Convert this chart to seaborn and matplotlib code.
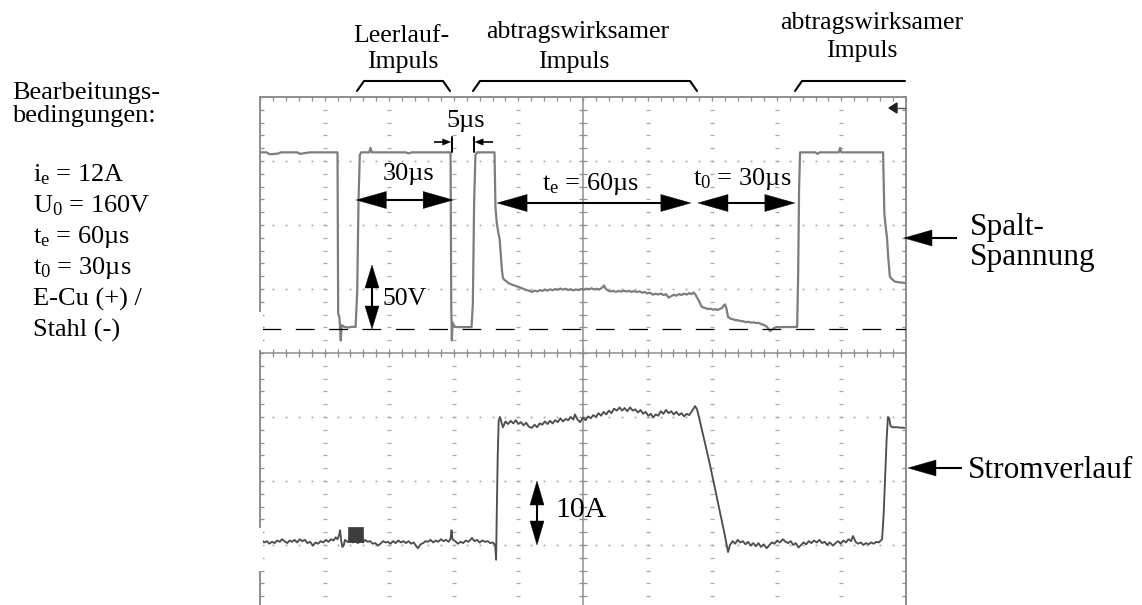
import numpy as np
import matplotlib
matplotlib.use("Agg")
import matplotlib.pyplot as plt
import seaborn as sns
from matplotlib import transforms as mtransforms
from matplotlib.lines import Line2D
from matplotlib.patches import Polygon, Rectangle

# ---------------------------------------------------------------------------
# Oscillogram data: gap voltage (V) and current (A) over time (µs)
# ---------------------------------------------------------------------------
volt_us = [
    0.0, 2.0, 3.0, 5.5, 6.5, 11.5, 12.5, 14.0, 15.5, 24.0,
    24.2, 24.6, 25.0, 25.3, 26.2, 27.5, 28.5, 29.6, 30.1, 30.5, 30.9, 31.3,
    33.8, 34.2, 34.6, 45.0, 46.0, 47.0, 59.0,
    59.2, 59.4, 59.6, 60.2, 61.0, 65.5, 65.9, 66.3, 66.7, 67.2, 72.6,
    72.9, 73.3, 73.8, 74.2, 74.6, 74.9, 75.2, 75.6, 76.2, 76.8, 77.5, 78.3,
    79.0, 79.9, 80.7, 81.5, 82.3, 83.2,
    84.2, 85.0, 85.8, 86.6, 87.4, 88.2, 89.0, 89.8, 90.6, 91.4, 92.2, 93.0,
    93.8, 94.6, 95.4, 96.2, 97.0, 97.8, 98.6, 99.4, 100.2, 101.0, 101.8,
    102.6, 103.4, 104.2, 105.0, 105.8, 106.5, 107.0, 107.8, 108.6, 109.4,
    110.2, 111.0, 111.8, 112.6, 113.4, 114.2, 115.0, 115.8, 116.7, 117.5,
    118.3, 119.1, 119.9, 120.7, 121.7, 122.5, 123.3, 124.1, 124.9, 125.7,
    126.5, 127.3, 128.1, 128.9, 129.7, 130.5, 131.3, 132.1, 132.9, 133.7,
    134.2, 134.8, 135.3, 135.9, 136.5, 137.0, 137.8, 138.6, 139.4, 140.2,
    141.0, 141.5, 142.3, 143.1, 143.6, 144.0, 144.4, 144.9, 145.6, 146.4,
    147.2, 148.0, 148.8, 149.6, 150.4, 151.2, 152.0, 152.8, 153.6, 154.4,
    155.2, 156.0, 156.8, 157.5, 157.9, 158.5, 159.2, 160.0, 161.0, 162.5,
    164.0, 165.5, 166.3, 166.6, 166.9, 167.2,
    172.0, 172.6, 173.3, 179.2, 179.6, 180.0, 192.9,
    193.3, 193.7, 194.1, 194.5, 195.0, 195.6, 196.6, 198.0, 199.7,
]
volt_V = [
    138, 138, 136.5, 137, 138, 138, 136.8, 137.5, 138, 138,
    12, 9, -9, 3, 1.5, 1.2, 1.8, 1.5, 30, 100, 136, 138,
    138, 141.5, 138, 138, 137.2, 138, 138,
    20, -9, 5, 2, 1.5, 1.5, 20, 100, 136, 138, 138,
    95, 83, 75, 70, 56, 46, 40, 38.5, 37.5, 36, 35.2, 34.4,
    33.8, 33.0, 32.2, 31.5, 30.5, 30.0,
    29.0, 30.0, 29.3, 30.4, 29.8, 30.8, 30.0, 31.0, 30.3, 31.2, 30.6, 31.6,
    30.8, 31.4, 30.5, 31.0, 30.2, 30.9, 30.4, 31.3, 30.6, 31.5, 31.0,
    31.8, 30.9, 31.4, 30.8, 32.0, 34.0, 31.5, 30.0, 29.3, 29.8,
    29.0, 29.7, 29.2, 30.0, 29.3, 29.8, 29.0, 29.6, 29.0, 29.4,
    28.4, 28.9, 27.8, 28.4, 26.8, 27.6, 26.9, 27.7, 26.5, 27.2,
    24.6, 25.6, 26.8, 26.0, 27.3, 26.6, 27.6, 26.9, 28.0, 27.3,
    28.5, 27.0, 24.5, 22.0, 18.5, 17.0, 16.4, 15.6, 15.9, 15.1,
    15.5, 14.8, 15.6, 16.5, 18.5, 19.2, 16.0, 9.5, 8.2, 7.6,
    7.0, 6.8, 6.2, 6.0, 5.4, 5.6, 5.0, 5.2, 4.6, 4.8,
    3.8, 3.2, 2.0, 0.0, -1.6, -0.5, 0.8, 1.6, 1.4, 1.6,
    1.5, 1.6, 1.6, 40, 110, 138,
    138, 136.8, 138, 138, 141.5, 138, 138,
    90, 80, 72, 56, 41, 39, 37, 36.4, 36,
]

curr_us = [
    0.5, 1.3, 2.1, 2.9, 3.7, 4.5, 5.3, 6.1, 6.8, 7.6, 8.4, 9.2, 9.9, 10.7,
    11.5, 12.3, 13.1, 13.9, 14.7, 15.5, 16.4, 17.2, 18.0, 18.8, 19.6, 20.4,
    21.2, 22.0, 22.8, 23.4, 24.0, 24.5, 24.8, 25.1, 25.5, 25.9, 26.3, 27.1,
    27.9, 28.7, 29.5, 30.3, 31.1, 31.9, 32.5, 33.3, 34.1, 34.9, 35.7, 36.5,
    37.3, 38.1, 38.9, 39.6, 40.4, 41.2, 42.0, 42.8, 43.6, 44.4, 45.2, 46.0,
    46.8, 47.6, 48.4, 48.9, 49.7, 50.5, 51.3, 52.0, 52.8, 53.6, 54.4, 55.2,
    56.0, 56.8, 57.6, 58.4, 59.0, 59.3, 59.6, 60.4, 61.3, 62.1, 62.9, 63.7,
    64.5, 65.3, 65.6, 66.4, 67.2, 68.0, 68.8, 69.7, 70.5, 71.3, 72.1, 72.8,
    73.1, 73.3, 73.6, 73.9,
    74.3, 75.2, 76.0, 76.8, 77.6, 78.4, 79.2, 80.0, 80.8, 81.6, 82.4, 83.2,
    84.2, 85.0, 85.8, 86.6, 87.4, 88.2, 89.0, 89.8, 90.6, 91.4, 92.2, 93.0,
    93.8, 94.6, 95.4, 96.2, 97.0, 97.5, 98.3, 99.1, 100.0, 100.8, 101.6,
    102.4, 103.2, 104.0, 104.8, 105.6, 106.4, 107.2, 108.0, 108.8, 109.6,
    110.5, 111.3, 112.1, 112.9, 113.7, 114.6, 115.4, 116.2, 117.0, 117.8,
    118.6, 119.4, 120.2, 121.0, 121.7, 122.5, 123.3, 124.1, 124.9, 125.7,
    126.5, 127.3, 128.1, 128.9, 129.7, 130.5, 131.3, 132.1, 132.9, 133.7,
    134.7, 135.3, 135.8, 137.5, 139.2, 140.8, 142.3, 143.8, 144.9,
    145.5, 146.3, 147.1, 147.9, 148.7, 149.5, 150.3, 151.1, 151.9, 152.7,
    153.5, 154.3, 155.1, 155.9, 156.9, 157.7, 158.5, 159.3, 160.1, 160.9,
    161.9, 162.7, 163.5, 164.3, 165.1, 165.9, 166.7, 167.5, 168.3, 169.1,
    169.9, 170.7, 171.5, 172.4, 173.2, 174.0, 174.8, 175.6, 176.4, 177.4,
    178.2, 179.0, 179.8, 180.6, 181.4, 182.2, 183.0, 183.6, 184.4, 185.2,
    186.0, 186.8, 187.6, 188.4, 189.2, 190.0, 190.8, 191.6, 192.6, 193.1,
    193.5, 194.0, 194.4, 194.8, 195.2, 195.7, 197.0, 199.5,
]
curr_A = [
    0.8, 0.4, 0.6, 0.2, 0.5, 0.3, 0.7, 0.5, 0.9, 0.6, 0.3, 0.7, 0.5, 0.8,
    0.4, 0.9, 0.6, 0.8, 0.3, 0.5, -0.1, 0.4, 0.2, 0.6, 0.4, 0.8,
    0.5, 0.9, 0.7, 1.2, 0.9, 1.6, 2.3, 0.8, -0.3, -0.1, 0.8, 0.5,
    0.7, 0.4, 0.6, 0.3, 0.6, 0.4, 0.8, 0.5, 0.6, 0.2, 0.3, -0.1,
    0.2, 0.6, 0.4, 0.5, 0.2, 0.6, 0.3, 0.7, 0.4, 0.6, 0.3, 0.6,
    0.2, 0.4, -0.2, -0.5, 0.1, 0.3, 0.6, 0.5, 0.8, 0.4, 0.7, 0.5,
    0.9, 0.6, 0.8, 0.5, 1.0, 2.3, 0.9, 0.6, 0.2, 0.5, 0.3, 0.7,
    0.5, 0.9, 1.1, 0.6, 0.8, 0.4, 0.7, 0.5, 0.6, 0.3, 0.4, 0.0,
    -2.3, 5.0, 14.0, 19.5,
    20.0, 18.4, 19.3, 18.9, 19.4, 19.0, 19.5, 18.9, 19.2, 18.7, 19.1, 18.5,
    18.3, 18.8, 18.4, 19.0, 18.8, 19.3, 18.9, 19.4, 19.0, 19.5, 19.2, 19.8,
    19.3, 19.7, 19.5, 20.0, 19.6, 20.4, 19.6, 19.2, 19.9, 19.5, 20.1,
    19.8, 20.3, 20.0, 20.6, 20.2, 20.8, 20.4, 21.0, 20.6, 21.3,
    21.0, 21.5, 21.0, 21.4, 20.9, 21.5, 21.0, 21.2, 20.7, 21.1,
    20.5, 20.8, 20.2, 20.5, 19.9, 20.4, 20.2, 20.9, 20.5, 21.1,
    20.6, 20.9, 20.4, 20.8, 20.3, 20.6, 20.1, 20.5, 20.3, 20.9,
    21.7, 21.2, 20.2, 16.5, 12.8, 9.0, 5.4, 1.8, -1.1,
    0.0, 0.6, 0.2, 0.8, 0.4, 0.6, 0.1, 0.5, -0.1, 0.3,
    -0.2, 0.3, -0.3, 0.1, -0.5, 0.0, 0.4, 0.2, 0.7, 0.4,
    0.9, 0.5, 0.3, 0.6, 0.0, 0.3, -0.4, 0.0, 0.4, 0.1,
    0.6, 0.3, 0.7, 0.4, 0.8, 0.3, 0.5, 0.0, 0.4, -0.1,
    0.3, 0.6, 0.2, 0.7, 0.4, 0.9, 0.6, 1.4, 0.5, 0.2,
    0.4, 0.0, 0.3, 0.1, 0.4, 0.2, 0.5, 0.4, 0.9, 5.0,
    10.0, 16.5, 20.0, 19.8, 18.6, 18.4, 18.4, 18.3,
]

# Screen scaling: 20 µs/div, 50 V/div, 10 A/div, 10 x 8 divisions
US_PER_DIV, V_PER_DIV, A_PER_DIV = 20, 50, 10
V_ZERO_DIV, A_ZERO_DIV = 0.375, -3.0

# ---------------------------------------------------------------------------
sns.set_theme(style="white")
plt.rcParams["font.family"] = ["Liberation Serif", "DejaVu Serif"]
plt.rcParams["mathtext.fontset"] = "custom"
plt.rcParams["mathtext.rm"] = "Liberation Serif"
plt.rcParams["mathtext.it"] = "Liberation Serif:italic"
plt.rcParams["lines.scale_dashes"] = False

W, H = 1142, 605
fig = plt.figure(figsize=(W / 100, H / 100), dpi=100)
fig.patch.set_facecolor("white")

# pixel transform (origin top-left) for annotation layout
px = mtransforms.Affine2D().scale(1 / W, -1 / H).translate(0, 1) + fig.transFigure

ax = fig.add_axes([260 / W, -4 / H, 646 / W, 512 / H])
ax.set_xlim(0, 10 * US_PER_DIV)
ax.set_ylim(-4, 4)
ax.set_facecolor("white")

grid_col = "#a9a9a9"
frame_col = "#8e8e8e"

# dotted graticule lines
sub_y = np.arange(-4, 4.001, 0.2)
sub_x = np.arange(0, 200.001, US_PER_DIV / 5)
for k in range(1, 10):
    if k == 5:
        continue
    ax.plot(np.full_like(sub_y, k * US_PER_DIV), sub_y, ls="none", marker="_",
            ms=3.2, mew=0.9, color=grid_col, zorder=1)
for j in (-3, -2, -1, 1, 2, 3):
    ax.plot(sub_x, np.full_like(sub_x, j), ls="none", marker="s",
            ms=1.3, mew=0, color=grid_col, zorder=1)

# centre cross with sub-division ticks
ax.axhline(0, color=frame_col, lw=1.1, zorder=1)
ax.axvline(5 * US_PER_DIV, color=frame_col, lw=1.1, zorder=1)
ax.plot(sub_x, np.zeros_like(sub_x), ls="none", marker="|", ms=5.5, mew=0.9,
        color=frame_col, zorder=1)
ax.plot(np.full_like(sub_y, 5 * US_PER_DIV), sub_y, ls="none", marker="_",
        ms=5.5, mew=0.9, color=frame_col, zorder=1)

for s in ax.spines.values():
    s.set_color(frame_col)
    s.set_linewidth(1.4)

# traces on their own value scales
ax_v = ax.twinx()
ax_v.set_ylim((-4 - V_ZERO_DIV) * V_PER_DIV, (4 - V_ZERO_DIV) * V_PER_DIV)
ax_i = ax.twinx()
ax_i.set_ylim((-4 - A_ZERO_DIV) * A_PER_DIV, (4 - A_ZERO_DIV) * A_PER_DIV)
for a in (ax_v, ax_i):
    a.axis("off")

ax.set_xticks(np.arange(0, 201, US_PER_DIV))
ax.set_xticks(sub_x, minor=True)
ax.set_yticks(np.arange(-4, 5, 1))
ax.set_yticks(sub_y, minor=True)
ax.tick_params(which="both", direction="in", length=3.2, width=0.9,
               color=frame_col, top=True, right=True, bottom=True, left=True,
               labelbottom=False, labelleft=False)

sns.lineplot(x=volt_us, y=volt_V, ax=ax_v, sort=False, estimator=None,
             color="#7d7d7d", lw=1.6)
sns.lineplot(x=curr_us, y=curr_A, ax=ax_i, sort=False, estimator=None,
             color="#4e4e4e", lw=1.35)

# zero-volt reference
ax_v.plot([0.6, 200], [0, 0], color="black", lw=0.9, dashes=(13.5, 10.5))

# trigger marker on current channel
ax_i.add_patch(Rectangle((27.2, 0.5), 4.6, 2.3, facecolor="#3c3c3c",
                         edgecolor="#3c3c3c", lw=0.5, zorder=5))

# ---------------------------------------------------------------------------
# annotation helpers (pixel coordinates, y downwards)
def to_px(trans, x, y):
    X, Y = trans.transform((x, y))
    return X, H - Y


def arrow(x0, y0, x1, y1, hl=30, hw=8.5, lw=1.5):
    d = np.hypot(x1 - x0, y1 - y0)
    ux, uy = (x1 - x0) / d, (y1 - y0) / d
    bx, by = x1 - ux * hl, y1 - uy * hl
    fig.add_artist(Line2D([x0, bx + ux], [y0, by + uy], transform=px,
                          color="black", lw=lw, solid_capstyle="butt"))
    nx, ny = -uy, ux
    fig.add_artist(Polygon([(x1, y1), (bx + nx * hw, by + ny * hw),
                            (bx - nx * hw, by - ny * hw)], closed=True,
                           transform=px, facecolor="black", edgecolor="black",
                           lw=0.3))


def double_arrow(x0, y0, x1, y1, **kw):
    mx, my = (x0 + x1) / 2, (y0 + y1) / 2
    arrow(mx, my, x0, y0, **kw)
    arrow(mx, my, x1, y1, **kw)


def label(x, y, s, size, ha="left"):
    fig.text(x, y, s, transform=px, fontsize=size, ha=ha, va="baseline",
             color="black")


def line(xs, ys, lw=1.5, color="black"):
    fig.add_artist(Line2D(xs, ys, transform=px, color=color, lw=lw))


def tx(t):
    return to_px(ax.transData, t, 0)[0]


# machining conditions
label(12, 99, "Bearbeitungs-", 19)
label(12, 122, "bedingungen:", 19)
cond = [r"i$_\mathregular{e}$ = 12A", r"U$_\mathregular{0}$ = 160V",
        r"t$_\mathregular{e}$ = 60µs", r"t$_\mathregular{0}$ = 30µs",
        "E-Cu (+) /", "Stahl (-)"]
for n, s in enumerate(cond):
    label(33, 181 + 31.1 * n, s, 19)

# pulse headings with brackets
label(401, 42, "Leerlauf-", 18.5, ha="center")
label(403, 68, "Impuls", 18.5, ha="center")
label(578, 38, "abtragswirksamer", 18.5, ha="center")
label(574, 68, "Impuls", 18.5, ha="center")
label(872, 29, "abtragswirksamer", 18.5, ha="center")
label(862, 57, "Impuls", 18.5, ha="center")
line([357, 364, 443, 450], [91, 81, 81, 91])
line([473, 480, 690, 697], [91, 81, 81, 91])
line([795, 802, 905], [91, 81, 81])

# channel labels
label(970, 235, "Spalt-", 22.5)
label(970, 265, "Spannung", 22.5)
arrow(957, 238, 904, 238, hl=28, hw=8)
label(968, 478, "Stromverlauf", 22.5)
arrow(962, 468, 908, 468, hl=28, hw=8)

# time spans
y30 = 200
double_arrow(tx(29.8), y30, tx(59.8), y30)
label(409, 180, "30µs", 19, ha="center")
yte = 203
double_arrow(tx(73.4), yte, tx(133.4), yte)
label(542, 190, r"t$_\mathregular{e}$ = 60µs", 19)
double_arrow(tx(135.6), yte, tx(165.6), yte)
label(693, 185, r"t$_\mathregular{0}$ = 30µs", 19)

# pause between pulses
xa, xb = tx(59.3), tx(66.3)
line([xa, xa], [137, 152], lw=1.4)
line([xb, xb], [137, 152], lw=1.4)
arrow(434, 142, xa - 1, 142, hl=8, hw=3.2, lw=1.2)
arrow(493, 142, xb + 1, 142, hl=8, hw=3.2, lw=1.2)
label(446, 127, "5µs", 19)

# amplitude scales
x50 = 372
_, y0v = to_px(ax_v.transData, 0, 0)
_, y1v = to_px(ax_v.transData, 0, 50)
double_arrow(x50, y0v, x50, y1v, hl=23, hw=7)
label(383, 305, "50V", 18.5)

x10 = 537
_, y0a = to_px(ax_i.transData, 0, 0)
_, y1a = to_px(ax_i.transData, 0, 10)
double_arrow(x10, y0a, x10, y1a, hl=24, hw=7)
label(555, 517, "10A", 21.5)

# trigger level mark at top right
fig.add_artist(Polygon([(889, 108), (897, 103), (897, 113)], closed=True,
                       transform=px, facecolor="#222222", edgecolor="#222222"))
line([897, 905], [108, 108], lw=1.0, color="#555555")

# gaps in the left frame
for y0, y1 in ((312, 350), (528, 571)):
    fig.add_artist(Rectangle((254, y0), 9, y1 - y0, transform=px,
                             facecolor="white", edgecolor="none", zorder=10))

fig.savefig("out.png", dpi=100, facecolor="white")
